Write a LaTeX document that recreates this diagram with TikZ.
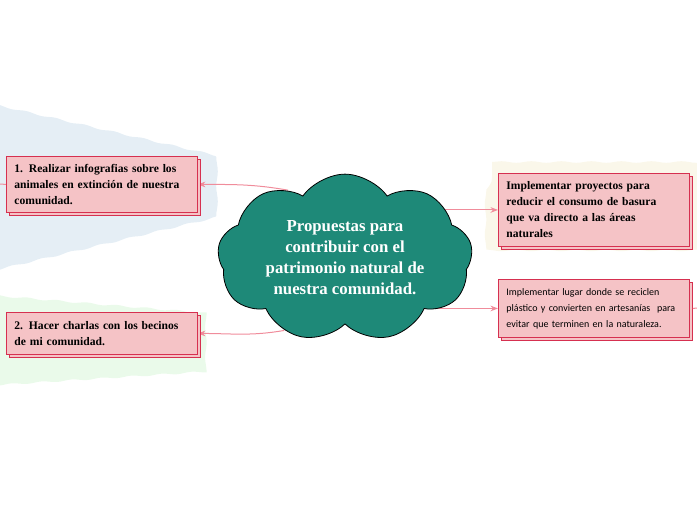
\documentclass[tikz,border=0pt]{standalone}
\usepackage{fontspec}
\setmainfont{Liberation Serif}
\newfontfamily\narrowfont{Carlito}
\usetikzlibrary{positioning, shapes.symbols, shadows, arrows.meta, decorations.pathmorphing, backgrounds}

\definecolor{cloudteal}{RGB}{30,137,120}
\definecolor{boxpink}{RGB}{245,195,198}
\definecolor{boxred}{RGB}{214,48,80}
\definecolor{linkpink}{RGB}{240,140,155}
\definecolor{bandblue}{RGB}{229,238,245}
\definecolor{bandgreen}{RGB}{234,250,234}
\definecolor{bandcream}{RGB}{250,247,234}

\begin{document}
\begin{tikzpicture}[x=1pt, y=-1pt, >=Stealth,
    idea/.style={draw=boxred, fill=boxpink, line width=0.9pt,
      copy shadow={shadow xshift=3pt, shadow yshift=-3pt},
      anchor=north west, align=left, inner xsep=8pt, inner ysep=0pt,
      text width=175pt, minimum width=191pt,
      font=\bfseries\fontsize{11.6}{16}\selectfont},
    link/.style={draw=linkpink, line width=1pt, ->},
    band/.style={decorate, decoration={snake, amplitude=0.8pt, segment length=30pt}}]
      \useasboundingbox (0,0) rectangle (697,520);

      % Background bands
      \begin{scope}[on background layer]
        \fill[bandblue, band] (-12,103) -- (205,153) -- (205,222) -- (-12,274) -- cycle;
        \fill[bandgreen, band] (-12,295) -- (205,313) -- (205,364) -- (-12,378) -- cycle;
        \fill[bandcream, band] (492,162) -- (710,162) -- (710,253) -- (492,253) -- cycle;
      \end{scope}

      % Central idea
      \node[cloud, cloud puffs=9, cloud puff arc=110, aspect=1.65, draw=black,
        fill=cloudteal, line width=0.8pt, inner xsep=0pt, inner ysep=-9pt, minimum width=255pt,
        text=white, align=center, font=\bfseries\fontsize{16.8}{21}\selectfont] (topic) at (345,258) {
        Propuestas para\\contribuir con el\\patrimonio natural de\\nuestra comunidad.
      };

      % Proposals
      \node[idea, minimum height=56pt] (infografias) at (6,156) {
        1. Realizar infografias sobre los\\animales en extinción de nuestra\\comunidad.
      };
      \node[idea, minimum height=42pt] (charlas) at (6,312) {
        2. Hacer charlas con los becinos\\de mi comunidad.
      };
      \node[idea, minimum height=73pt] (basura) at (498,173) {
        Implementar proyectos para\\reducir el consumo de basura\\que va directo a las áreas\\naturales
      };
      \node[idea, minimum height=58pt, font=\narrowfont\fontsize{10}{16}\selectfont] (reciclaje) at (498,279) {
        Implementar lugar donde se reciclen\\plástico y convierten en artesanías\ \ para\\evitar que terminen en la naturaleza.
      };

      % Connectors
      \begin{scope}[on background layer]
        \draw[link] (topic.130) to[out=170, in=0] (infografias.east);
        \draw[link] (topic.230) to[out=190, in=0] (charlas.east);
        \draw[link] (topic.center |- basura.west) -- (basura.west);
        \draw[link] (topic.center |- reciclaje.west) -- (reciclaje.west);
      \end{scope}

      % Collapsed branches
      \coordinate (leftend) at (0,184);
      \coordinate (rightend) at (697,308);
      \draw[linkpink, line width=1pt] (infografias.west) -- (leftend);
      \draw[linkpink, line width=1pt] (reciclaje.east) ++(3pt,0) -- (rightend);

    \end{tikzpicture}
\end{document}
